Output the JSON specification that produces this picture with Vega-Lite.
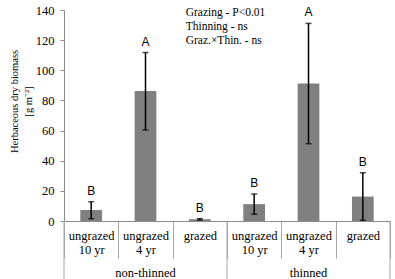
{
  "$schema": "https://vega.github.io/schema/vega-lite/v6.json",
  "width": 326,
  "height": 211,
  "autosize": {"type": "none"},
  "padding": {"left": 64, "top": 10, "right": 5, "bottom": 58},
  "background": "white",
  "config": {
    "view": {"stroke": null},
    "font": "Liberation Serif, Times New Roman, serif",
    "axisY": {"labelOverlap": false, "tickCount": 8}
  },
  "datasets": {
    "bars": [
      {"cat": "non-thinned|ungrazed|10 yr", "group": "non-thinned", "sub": "ungrazed 10 yr", "mean": 7.3, "lo": 1.5, "hi": 12.8, "letter": "B"},
      {"cat": "non-thinned|ungrazed|4 yr", "group": "non-thinned", "sub": "ungrazed 4 yr", "mean": 86.2, "lo": 60.4, "hi": 111.8, "letter": "A"},
      {"cat": "non-thinned|grazed", "group": "non-thinned", "sub": "grazed", "mean": 1.1, "lo": 0.6, "hi": 1.6, "letter": "B"},
      {"cat": "thinned|ungrazed|10 yr", "group": "thinned", "sub": "ungrazed 10 yr", "mean": 11.2, "lo": 4.5, "hi": 17.9, "letter": "B"},
      {"cat": "thinned|ungrazed|4 yr", "group": "thinned", "sub": "ungrazed 4 yr", "mean": 91.3, "lo": 51.3, "hi": 131.1, "letter": "A"},
      {"cat": "thinned|grazed", "group": "thinned", "sub": "grazed", "mean": 16.2, "lo": 0.5, "hi": 32, "letter": "B"}
    ],
    "notes": [{"note": ["Grazing - P<0.01", "Thinning - ns", "Graz.×Thin. - ns"]}]
  },
  "data": {"name": "bars"},
  "layer": [
    {
      "mark": {"type": "bar", "width": {"band": 0.4}, "color": "#808080"},
      "encoding": {
        "x": {
          "field": "cat", "type": "nominal", "sort": null,
          "scale": {"paddingInner": 0, "paddingOuter": 0},
          "axis": {
            "title": null,
            "labelExpr": "slice(split(datum.label, '|'), 1)",
            "labelAngle": 0,
            "labelFont": "Liberation Serif, Times New Roman, serif",
            "labelFontSize": 12.5,
            "labelColor": "black",
            "labelLineHeight": 14,
            "labelPadding": -29,
            "tickBand": "extent",
            "tickSize": 37,
            "tickColor": "#a6a6a6",
            "domainColor": "#8c8c8c"
          }
        },
        "y": {
          "field": "mean", "type": "quantitative",
          "scale": {"domain": [0, 140]},
          "axis": {
            "values": [0, 20, 40, 60, 80, 100, 120, 140],
            "labelOverlap": false,
            "grid": false,
            "title": ["Herbaceous dry biomass", "[g m⁻²]"],
            "titleFont": "Liberation Serif, Times New Roman, serif",
            "titleFontSize": 10.5,
            "titleFontWeight": "normal",
            "titleColor": "black",
            "titleLineHeight": 14,
            "titlePadding": 2,
            "titleY": 91,
            "labelFont": "Liberation Serif, Times New Roman, serif",
            "labelFontSize": 12.5,
            "labelColor": "black",
            "labelPadding": 6,
            "tickSize": 4,
            "tickColor": "#8c8c8c",
            "domainColor": "#8c8c8c"
          }
        }
      }
    },
    {
      "mark": {"type": "rule", "color": "black", "strokeWidth": 1.5},
      "encoding": {
        "x": {"field": "cat", "type": "nominal", "sort": null},
        "y": {"field": "lo", "type": "quantitative"},
        "y2": {"field": "hi"}
      }
    },
    {
      "mark": {"type": "tick", "color": "black", "thickness": 1.5, "size": 6, "orient": "horizontal"},
      "encoding": {
        "x": {"field": "cat", "type": "nominal", "sort": null},
        "y": {"field": "lo", "type": "quantitative"}
      }
    },
    {
      "mark": {"type": "tick", "color": "black", "thickness": 1.5, "size": 6, "orient": "horizontal"},
      "encoding": {
        "x": {"field": "cat", "type": "nominal", "sort": null},
        "y": {"field": "hi", "type": "quantitative"}
      }
    },
    {
      "mark": {"type": "text", "font": "Liberation Sans", "fontSize": 12, "baseline": "middle", "dy": -11, "color": "black"},
      "encoding": {
        "x": {"field": "cat", "type": "nominal", "sort": null},
        "y": {"field": "hi", "type": "quantitative"},
        "text": {"field": "letter"}
      }
    },
    {
      "transform": [{"filter": "datum.sub == 'ungrazed 10 yr'"}],
      "mark": {"type": "rule", "color": "#a6a6a6", "strokeWidth": 1},
      "encoding": {
        "x": {"field": "cat", "type": "nominal", "sort": null, "bandPosition": 0},
        "y": {"datum": 0, "type": "quantitative"},
        "y2": {"datum": -38.5}
      }
    },
    {
      "transform": [{"filter": "datum.cat == 'thinned|grazed'"}],
      "mark": {"type": "rule", "color": "#a6a6a6", "strokeWidth": 1},
      "encoding": {
        "x": {"field": "cat", "type": "nominal", "sort": null, "bandPosition": 1},
        "y": {"datum": 0, "type": "quantitative"},
        "y2": {"datum": -38.5}
      }
    },
    {
      "transform": [{"filter": "datum.sub == 'ungrazed 4 yr'"}],
      "mark": {"type": "text", "font": "Liberation Serif, Times New Roman, serif", "fontSize": 12.5, "baseline": "middle", "color": "black"},
      "encoding": {
        "x": {"field": "cat", "type": "nominal", "sort": null},
        "y": {"datum": -34.3, "type": "quantitative"},
        "text": {"field": "group"}
      }
    },
    {
      "data": {"name": "notes"},
      "mark": {"type": "text", "font": "Liberation Serif, Times New Roman, serif", "fontSize": 11.5, "align": "left", "baseline": "top", "lineHeight": 14, "dx": 13, "dy": -3, "color": "black"},
      "encoding": {
        "x": {"datum": "non-thinned|grazed", "type": "nominal", "bandPosition": 0},
        "y": {"datum": 140, "type": "quantitative"},
        "text": {"field": "note"}
      }
    }
  ]
}
